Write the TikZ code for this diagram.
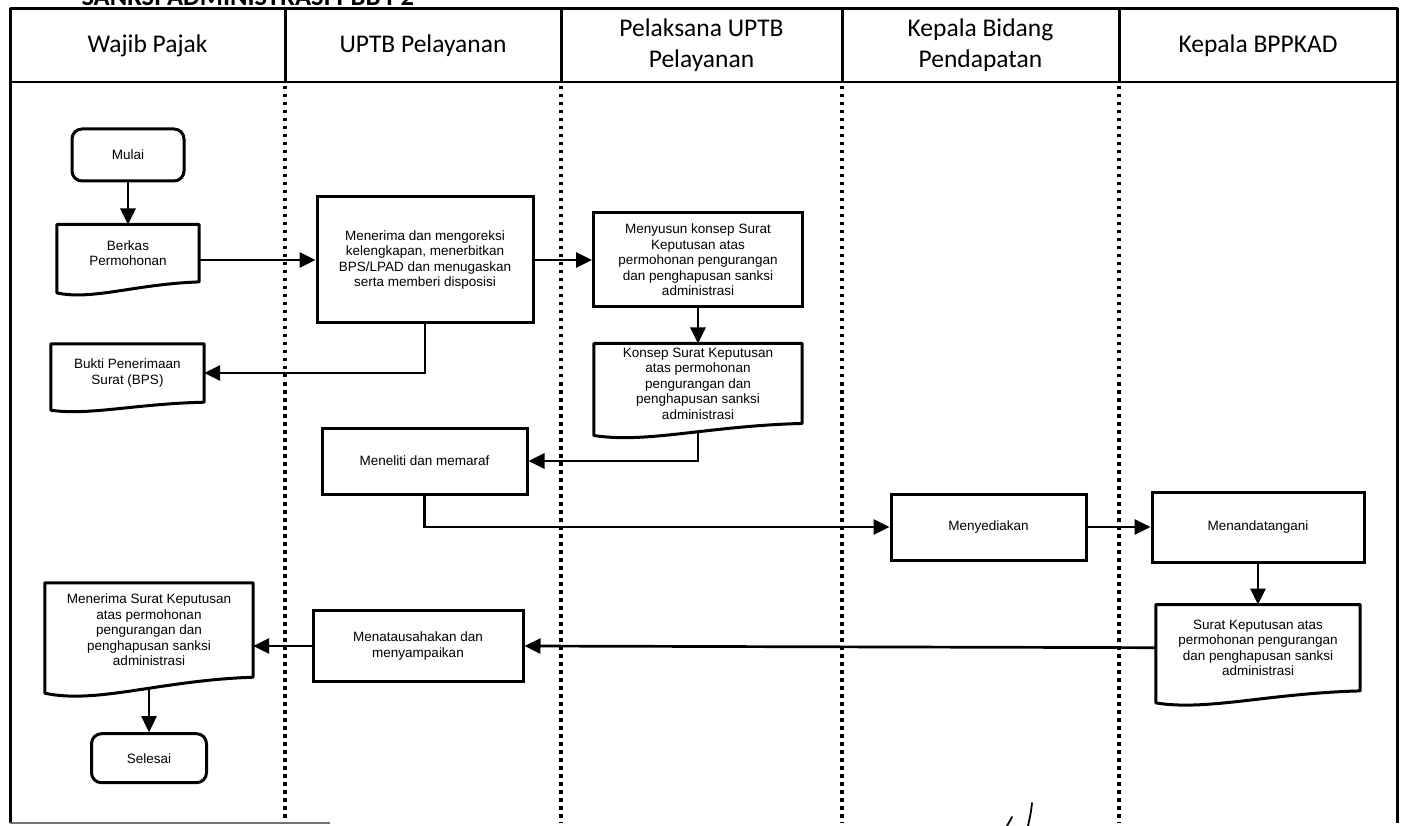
\documentclass[tikz,border=0pt]{standalone}
\usepackage{fontspec}
\setmainfont{Liberation Sans}
\newfontfamily\judulfont{Carlito}
\usetikzlibrary{shapes,arrows.meta,positioning,calc}

\begin{document}
\begin{tikzpicture}[x=1pt, y=-1pt,
    kotak/.style={rectangle, draw, line width=3pt, align=center, inner sep=4pt, font=\fontsize{13.5}{15.5}\selectfont},
    terminal/.style={kotak, rounded corners=10pt},
    dokumen/.style={rectangle, align=center, inner sep=4pt, font=\fontsize{13.5}{15.5}\selectfont},
    garis/.style={line width=3pt, line join=round},
    panah/.style={line width=2.7pt, -{Triangle[length=16pt,width=15pt]}},
    lajur/.style={line width=3.5pt, dash pattern=on 3.5pt off 4.5pt},
    kepala/.style={align=center, font=\judulfont\fontsize{25.5}{31}\selectfont}]

    \useasboundingbox (0,0) rectangle (1401,826);
    \clip (0,0) rectangle (1401,826);

        % Title, cut off at the top of the page
    \node (judul) [anchor=base west, font=\judulfont\bfseries\fontsize{26.5}{30}\selectfont] at (78,6) {SANKSI ADMINISTRASI PBB P2};

        % Frame and lanes
    \draw [garis] (10,823) -- (10,9) -- (1397,9) -- (1397,823);
    \draw [line width=2.4pt] (10,82) -- (1397,82);
    \foreach \x in {285,561,842,1119} {
        \draw [garis] (\x,9) -- (\x,82);
        \draw [lajur] (\x,86) -- (\x,823);
    }
    \draw [line width=2.4pt, black!55] (10,823) -- (330,823);

    \node (wp) [kepala] at (147.5,45.5) {Wajib Pajak};
    \node (uptb) [kepala] at (423,45.5) {UPTB Pelayanan};
    \node (pelaksana) [kepala] at (701.5,45.5) {Pelaksana UPTB\\Pelayanan};
    \node (kabid) [kepala] at (980.5,45.5) {Kepala Bidang\\Pendapatan};
    \node (kaban) [kepala] at (1258,45.5) {Kepala BPPKAD};

        % Nodes
    \node (mulai) [terminal, minimum width=112pt, minimum height=52pt] at (128,155) {Mulai};
    \node (berkas) [dokumen, minimum width=142pt, minimum height=57pt, below=42pt of mulai] {Berkas\\Permohonan};
    \node (menerima) [kotak, minimum width=216pt, minimum height=126pt] at (425,260) {Menerima dan mengoreksi\\kelengkapan, menerbitkan\\BPS/LPAD dan menugaskan\\serta memberi disposisi};
    \node (menyusun) [kotak, minimum width=209pt, minimum height=94pt] at (698,260) {Menyusun konsep  Surat\\Keputusan atas\\permohonan pengurangan\\dan penghapusan sanksi\\administrasi};
    \node (konsep) [dokumen, minimum width=208pt, minimum height=78pt, below=35pt of menyusun] {Konsep  Surat Keputusan\\atas permohonan\\pengurangan dan\\penghapusan sanksi\\administrasi};
    \node (bukti) [dokumen, minimum width=153pt, minimum height=58pt] at (127.5,373) {Bukti Penerimaan\\Surat (BPS)};
    \node (meneliti) [kotak, minimum width=205pt, minimum height=66pt] at (424.5,461) {Meneliti dan memaraf};
    \node (menyediakan) [kotak, minimum width=195pt, minimum height=66pt] at (988.5,527) {Menyediakan};
    \node (ttd) [kotak, minimum width=212pt, minimum height=70pt] at (1258,527) {Menandatangani};
    \node (sk) [dokumen, minimum width=204pt, minimum height=86pt, below=41pt of ttd] {Surat Keputusan atas\\permohonan pengurangan\\dan penghapusan sanksi\\administrasi};
    \node (tata) [kotak, minimum width=210pt, minimum height=71pt] at (418,646) {Menatausahakan dan\\menyampaikan};
    \node (terimask) [dokumen, minimum width=208pt, minimum height=94pt] at (149,630) {Menerima Surat Keputusan\\atas permohonan\\pengurangan dan\\penghapusan sanksi\\administrasi};
    \node (selesai) [terminal, minimum width=115pt, minimum height=49pt, below=55pt of terimask] {Selesai};

        % Document outlines with a wavy bottom
    \foreach \n/\amp in {berkas/11pt, bukti/8pt, konsep/12pt, sk/12pt, terimask/16pt}
        \draw [garis] (\n.south east) -- (\n.north east) -- (\n.north west) -- ([yshift=-\amp]\n.south west)
            .. controls ($(\n.south west)!0.25!(\n.south east)+(0,-1.7*\amp)$) and ($(\n.south west)!0.55!(\n.south east)+(0,-0.2*\amp)$) .. (\n.south east) -- cycle;

        % Arrows
    \draw [panah] (mulai) -- (berkas);
    \draw [panah] (berkas.east |- menerima.west) -- (menerima.west);
    \draw [panah] (menerima) -- (menyusun);
    \draw [panah] (menyusun) -- (konsep);
    \draw [panah] (menerima.south) |- (bukti.east);
    \draw [panah] ([yshift=-8pt]konsep.south) |- (meneliti.east);
    \draw [panah] (meneliti.south) |- (menyediakan.west);
    \draw [panah] (menyediakan) -- (ttd);
    \draw [panah] (ttd) -- (sk);
    \draw [panah] (sk.west) -- (tata.east);
    \draw [panah] (tata.west) -- (tata.west -| terimask.east);
    \draw [panah] ([yshift=-11pt]terimask.south) -- (selesai);

        % Initial at the foot of the page
    \draw [line width=1.8pt, line cap=round] (1012,817) -- (1007,826);
    \draw [line width=1.8pt, line cap=round] (1032,803) .. controls (1031,812) .. (1028,826);

\end{tikzpicture}
\end{document}
